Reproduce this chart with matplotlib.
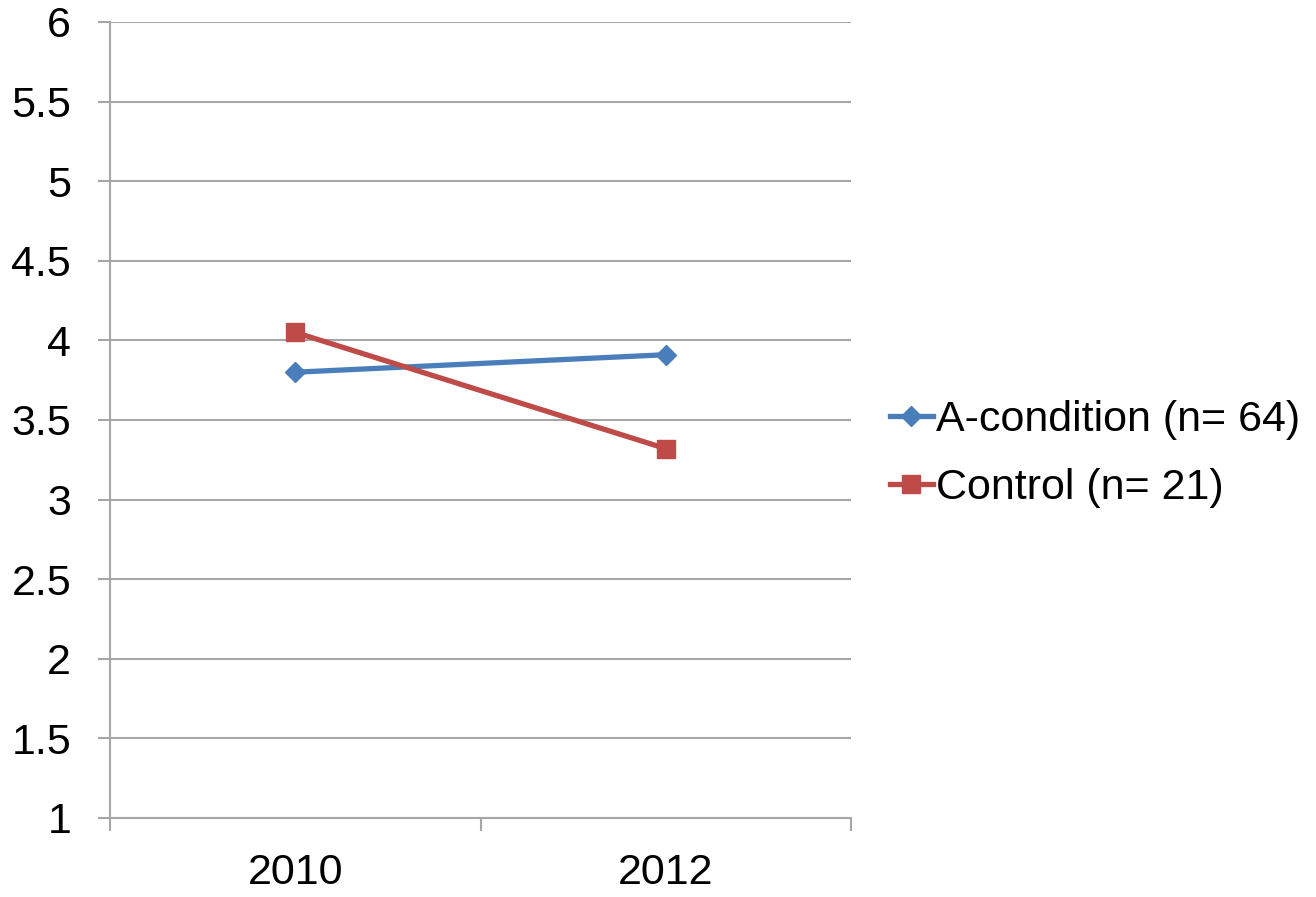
import matplotlib.pyplot as plt
from matplotlib.ticker import FixedLocator

years = ['2010', '2012']
a_condition = [3.80, 3.91]
control = [4.05, 3.32]
labels = ['A-condition (n= 64)', 'Control (n= 21)']

plt.rcParams['font.family'] = ['Liberation Sans', 'DejaVu Sans']

fig = plt.figure(figsize=(13.16, 8.97), dpi=100)
ax = fig.add_axes([0.0836, 0.0881, 0.5631, 0.8874])

x = range(len(years))
ax.plot(x, a_condition, color='#4a7ebb', lw=3.8, marker='D', ms=10.5, label=labels[0])
ax.plot(x, control, color='#be4b48', lw=3.8, marker='s', ms=12.5, label=labels[1])

ax.set_xlim(-0.5, 1.5)
ax.set_ylim(1, 6)
ax.set_yticks([1 + 0.5 * i for i in range(11)])
ax.set_yticklabels(['1', '1.5', '2', '2.5', '3', '3.5', '4', '4.5', '5', '5.5', '6'])
ax.set_xticks(list(x))
ax.set_xticklabels(years)
ax.xaxis.set_minor_locator(FixedLocator([-0.5, 0.5, 1.5]))

grey = '#a6a6a6'
ax.grid(axis='y', color=grey, lw=1.5)
ax.set_axisbelow(True)
for s in ['top', 'right']:
    ax.spines[s].set_visible(False)
for s in ['left', 'bottom']:
    ax.spines[s].set_color(grey)
    ax.spines[s].set_linewidth(1.5)

ax.tick_params(axis='y', length=9, width=1.5, color=grey, pad=19, labelsize=31)
ax.tick_params(axis='x', which='major', length=0, pad=25, labelsize=31)
ax.tick_params(axis='x', which='minor', length=9, width=1.5, color=grey)

fig.legend(loc='center left', bbox_to_anchor=(0.676, 0.494), frameon=False,
           fontsize=31, handlelength=1.0, handletextpad=0.08, labelspacing=0.65,
           borderpad=0, borderaxespad=0)

plt.savefig('out.png')
